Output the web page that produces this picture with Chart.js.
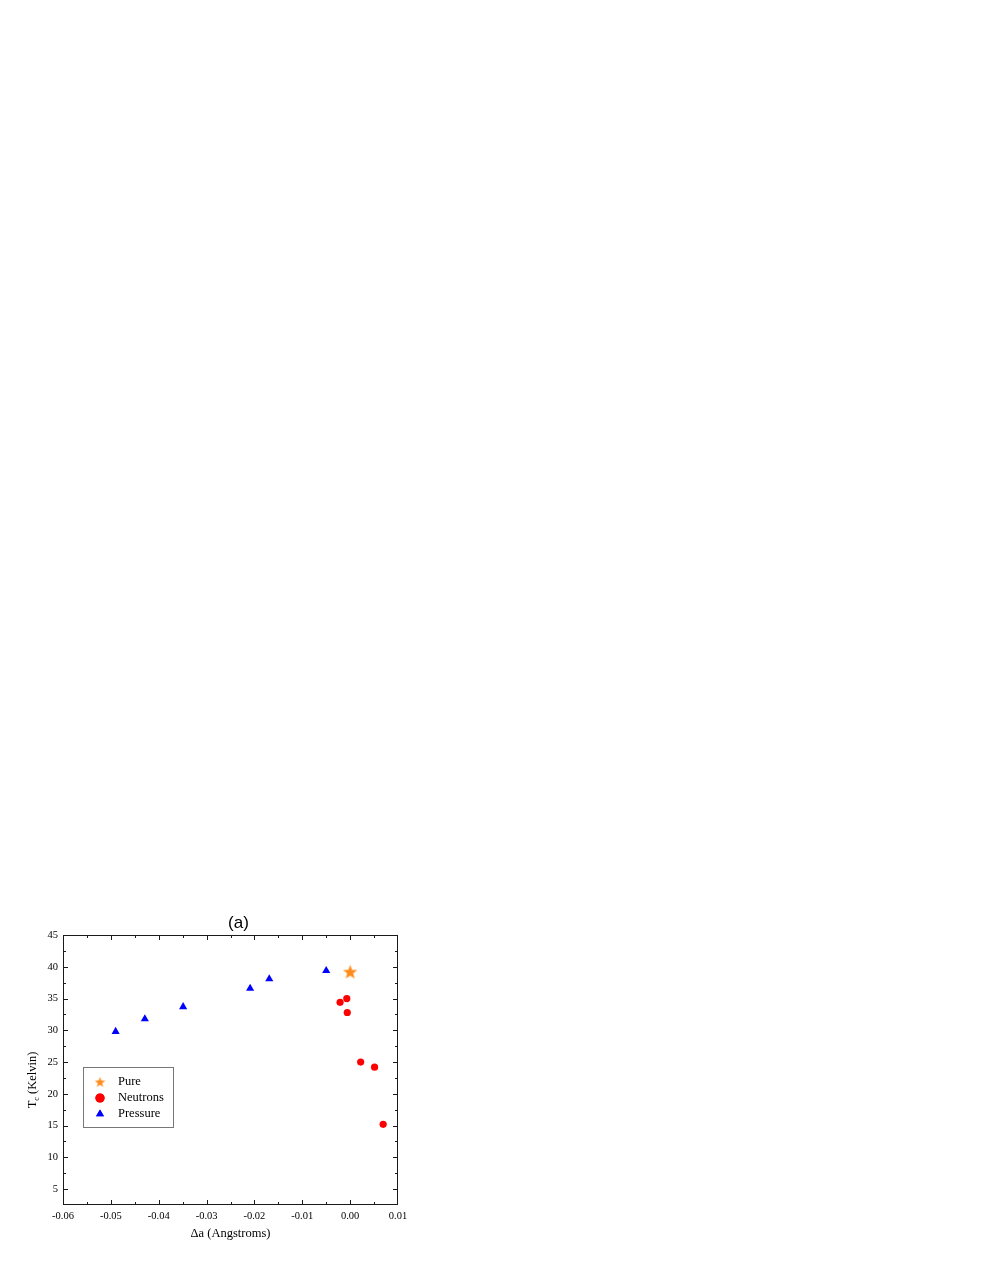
<!DOCTYPE html>
<html>
<head>
<meta charset="utf-8">
<script src="https://cdn.jsdelivr.net/npm/chart.js@4"></script>
<style>
  html, body { margin: 0; padding: 0; background: #ffffff; }
  #chart { position: absolute; left: 0; top: 0; }
</style>
</head>
<body>
<canvas id="chart" width="981" height="1269"></canvas>
<script>
// values
const pureX = [0.0];
const pureY = [39.2];

const neutronsX = [-0.0021, -0.0007, -0.0006, 0.0022, 0.0051, 0.0069];
const neutronsY = [34.4, 35.0, 32.8, 25.0, 24.2, 15.2];

const pressureX = [-0.0490, -0.0429, -0.0349, -0.0209, -0.0169, -0.0050];
const pressureY = [29.8, 31.8, 33.7, 36.6, 38.1, 39.4];

const xTickMin = -0.06;
const xTickMax = 0.01;
const yTickMin = 2.5;
const yTickMax = 45;

const seriesNames = ['Pure', 'Neutrons', 'Pressure'];

const SERIF = "'Liberation Serif', 'Times New Roman', serif";
const SANS = "'Liberation Sans', Arial, sans-serif";
const ORANGE = '#ff8c1a';

function toPoints(xs, ys) {
  return xs.map((x, i) => ({ x: x, y: ys[i] }));
}

function starPath(ctx, cx, cy, outer, inner) {
  ctx.beginPath();
  for (let i = 0; i < 10; i++) {
    const r = i % 2 === 0 ? outer : inner;
    const a = -Math.PI / 2 + i * Math.PI / 5;
    const px = cx + r * Math.cos(a);
    const py = cy + r * Math.sin(a);
    if (i === 0) ctx.moveTo(px, py); else ctx.lineTo(px, py);
  }
  ctx.closePath();
}

function makeStar(size, color) {
  const c = document.createElement('canvas');
  c.width = size;
  c.height = size;
  const g = c.getContext('2d');
  g.fillStyle = color;
  starPath(g, size / 2, size / 2 + size * 0.04, size / 2, size / 2 * 0.42);
  g.fill();
  return c;
}

const bigStar = makeStar(15, ORANGE);
const smallStar = makeStar(11, ORANGE);

function isMajorX(v) {
  return Math.abs(Math.round(v * 1000)) % 10 === 0;
}
function isMajorY(v) {
  return Math.abs(Math.round(v * 10)) % 50 === 0 && v > 4;
}

// frame, inward ticks, title, y title with subscript, legend box
const decorations = {
  id: 'decorations',
  afterDraw(chart) {
    const ctx = chart.ctx;
    const a = chart.chartArea;
    const xs = chart.scales.x;
    const ys = chart.scales.y;
    ctx.save();

    ctx.strokeStyle = '#1a1a1a';
    ctx.lineWidth = 1;
    ctx.strokeRect(a.left + 0.5, a.top + 0.5, a.right - a.left - 1, a.bottom - a.top - 1);

    ctx.beginPath();
    xs.ticks.forEach(t => {
      const px = Math.round(xs.getPixelForValue(t.value)) + 0.5;
      if (px <= a.left + 1 || px >= a.right - 1) return;
      const len = isMajorX(t.value) ? 5 : 3;
      ctx.moveTo(px, a.bottom);
      ctx.lineTo(px, a.bottom - len);
      ctx.moveTo(px, a.top);
      ctx.lineTo(px, a.top + len);
    });
    ys.ticks.forEach(t => {
      const py = Math.round(ys.getPixelForValue(t.value)) + 0.5;
      if (py <= a.top + 1 || py >= a.bottom - 1) return;
      const len = isMajorY(t.value) ? 5 : 3;
      ctx.moveTo(a.left, py);
      ctx.lineTo(a.left + len, py);
      ctx.moveTo(a.right, py);
      ctx.lineTo(a.right - len, py);
    });
    ctx.stroke();

    // title
    ctx.fillStyle = '#000';
    ctx.font = '17px ' + SANS;
    ctx.textAlign = 'center';
    ctx.textBaseline = 'middle';
    ctx.fillText('(a)', (a.left + a.right) / 2 + 8, a.top - 12);

    // y axis title: T_c (Kelvin)
    ctx.save();
    ctx.translate(33, (a.top + a.bottom) / 2 + 10);
    ctx.rotate(-Math.PI / 2);
    ctx.textAlign = 'left';
    ctx.textBaseline = 'middle';
    ctx.font = '12.5px ' + SERIF;
    const wT = ctx.measureText('T').width;
    ctx.font = '8px ' + SERIF;
    const wc = ctx.measureText('c').width;
    ctx.font = '12.5px ' + SERIF;
    const wRest = ctx.measureText(' (Kelvin)').width;
    let x0 = -(wT + wc + wRest) / 2;
    ctx.fillText('T', x0, 0);
    ctx.font = '8px ' + SERIF;
    ctx.fillText('c', x0 + wT, 4);
    ctx.font = '12.5px ' + SERIF;
    ctx.fillText(' (Kelvin)', x0 + wT + wc, 0);
    ctx.restore();

    // legend
    const lx = 83, ly = 1067, lw = 90, lh = 60;
    ctx.strokeStyle = '#777';
    ctx.lineWidth = 1;
    ctx.strokeRect(lx + 0.5, ly + 0.5, lw, lh);
    ctx.font = '12.5px ' + SERIF;
    ctx.textAlign = 'left';
    ctx.textBaseline = 'middle';
    chart.data.datasets.forEach((ds, i) => {
      const cy = ly + 15 + i * 16;
      const cx = lx + 17;
      if (i === 0) {
        ctx.drawImage(smallStar, cx - 5.5, cy - 5.5);
      } else {
        ctx.fillStyle = ds.backgroundColor;
        Chart.helpers.drawPoint(ctx, {
          pointStyle: ds.pointStyle, radius: 4.6, rotation: 0, borderWidth: 0
        }, cx, cy);
        ctx.fill();
      }
      ctx.fillStyle = '#000';
      ctx.fillText(ds.label, lx + 35, cy);
    });

    ctx.restore();
  }
};

const ctx = document.getElementById('chart').getContext('2d');
const chart = new Chart(ctx, {
  type: 'scatter',
  data: {
    datasets: [
      {
        label: seriesNames[0],
        data: toPoints(pureX, pureY),
        pointStyle: bigStar,
        backgroundColor: ORANGE,
        borderColor: ORANGE
      },
      {
        label: seriesNames[1],
        data: toPoints(neutronsX, neutronsY),
        pointStyle: 'circle',
        pointRadius: 3.6,
        backgroundColor: '#ff0000',
        borderColor: '#ff0000',
        borderWidth: 0
      },
      {
        label: seriesNames[2],
        data: toPoints(pressureX, pressureY),
        pointStyle: 'triangle',
        pointRadius: 4.7,
        backgroundColor: '#0000ff',
        borderColor: '#0000ff',
        borderWidth: 0
      }
    ]
  },
  options: {
    responsive: false,
    animation: false,
    layout: {
      padding: { left: 0, top: 935, right: 583, bottom: 24 }
    },
    plugins: {
      legend: { display: false },
      tooltip: { enabled: false }
    },
    scales: {
      x: {
        type: 'linear',
        min: xTickMin,
        max: xTickMax,
        grid: { display: false, drawTicks: false },
        border: { display: false },
        afterFit: scale => { scale.height = 40; },
        ticks: {
          stepSize: 0.005,
          autoSkip: false,
          maxRotation: 0,
          padding: 5,
          color: '#000',
          font: { family: SERIF, size: 10.5 },
          callback: v => {
            if (!isMajorX(v)) return '';
            const r = Math.round(v * 100) / 100;
            return (Math.abs(r) < 1e-9 ? 0 : r).toFixed(2);
          }
        },
        title: {
          display: true,
          text: 'Δa (Angstroms)',
          color: '#000',
          font: { family: SERIF, size: 12.5 },
          padding: { top: 4, bottom: 4 }
        }
      },
      y: {
        type: 'linear',
        min: yTickMin,
        max: yTickMax,
        grid: { display: false, drawTicks: false },
        border: { display: false },
        afterFit: scale => { scale.width = 63; },
        ticks: {
          stepSize: 2.5,
          autoSkip: false,
          padding: 5,
          color: '#000',
          font: { family: SERIF, size: 10.5 },
          callback: v => isMajorY(v) ? String(Math.round(v)) : ''
        }
      }
    }
  },
  plugins: [decorations]
});
</script>
</body>
</html>
